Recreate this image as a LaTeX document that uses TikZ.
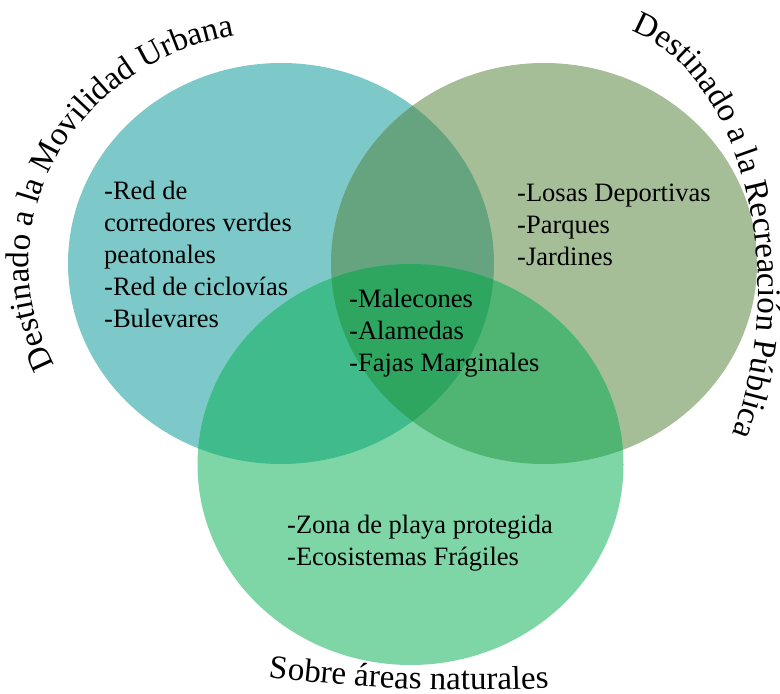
\documentclass[tikz,border=0pt]{standalone}
\usepackage{fontspec}
\setmainfont{Liberation Serif}
\usepackage{tikz}
\usetikzlibrary{decorations.text}

\definecolor{movil}{HTML}{7DC9C9}
\definecolor{recreo}{HTML}{A6BE98}
\definecolor{natural}{HTML}{7ED6A6}
\definecolor{movrec}{HTML}{66A480}
\definecolor{movnat}{HTML}{40BB8C}
\definecolor{recnat}{HTML}{50B473}
\definecolor{todos}{HTML}{2EA660}

\begin{document}
\begin{tikzpicture}[x=1pt,y=1pt,
  lista/.style={anchor=north west,align=left,inner sep=0pt,font=\fontsize{26.5}{32}\selectfont},
  rotulo/.style={decorate,decoration={text along path,text align=center,
    text={|\fontsize{33}{33}\selectfont|#1}}}]
\useasboundingbox (0,0) rectangle (780,694);
\clip (0,0) rectangle (780,694);
\coordinate (cM) at (281,430.5);
\coordinate (cR) at (544,430.5);
\coordinate (cN) at (410.5,229.5);
% circulos
\fill[movil] (cM) ellipse (213 and 200.5);
\fill[recreo] (cR) ellipse (213 and 200.5);
\fill[natural] (cN) ellipse (213 and 200.5);
\begin{scope}
\clip (cR) ellipse (213 and 200.5);
\fill[recnat] (cN) ellipse (213 and 200.5);
\end{scope}
\begin{scope}
\clip (cM) ellipse (213 and 200.5);
\fill[movrec] (cR) ellipse (213 and 200.5);
\fill[movnat] (cN) ellipse (213 and 200.5);
\clip (cR) ellipse (213 and 200.5);
\fill[todos] (cN) ellipse (213 and 200.5);
\end{scope}
% textos
\node[lista] (movlista) at (104,513) {-Red de\\corredores verdes\\peatonales\\-Red de ciclovías\\-Bulevares};
\node[lista] (reclista) at (517,510) {-Losas Deportivas\\-Parques\\-Jardines};
\node[lista] (comun) at (349,405) {-Malecones\\-Alamedas\\-Fajas Marginales};
\node[lista] (natlista) at (287,179) {-Zona de playa protegida\\-Ecosistemas Frágiles};
% rotulos curvos
\coordinate (tR) at (597,404);
\coordinate (tN) at (470,1604);
\path[rotulo={Destinado a la Movilidad Urbana}]
  ([shift={(cM)}]207:252 and 232) arc[start angle=207,end angle=99.5,x radius=252,y radius=232];
\path[rotulo={Destinado a la Recreación Pública}]
  ([shift={(tR)}]82:161 and 265) arc[start angle=82,end angle=-36,x radius=161,y radius=265];
\path[rotulo={Sobre áreas naturales}]
  ([shift={(tN)}]260:1600) arc[start angle=260,end angle=275.6,radius=1600];
\end{tikzpicture}
\end{document}
